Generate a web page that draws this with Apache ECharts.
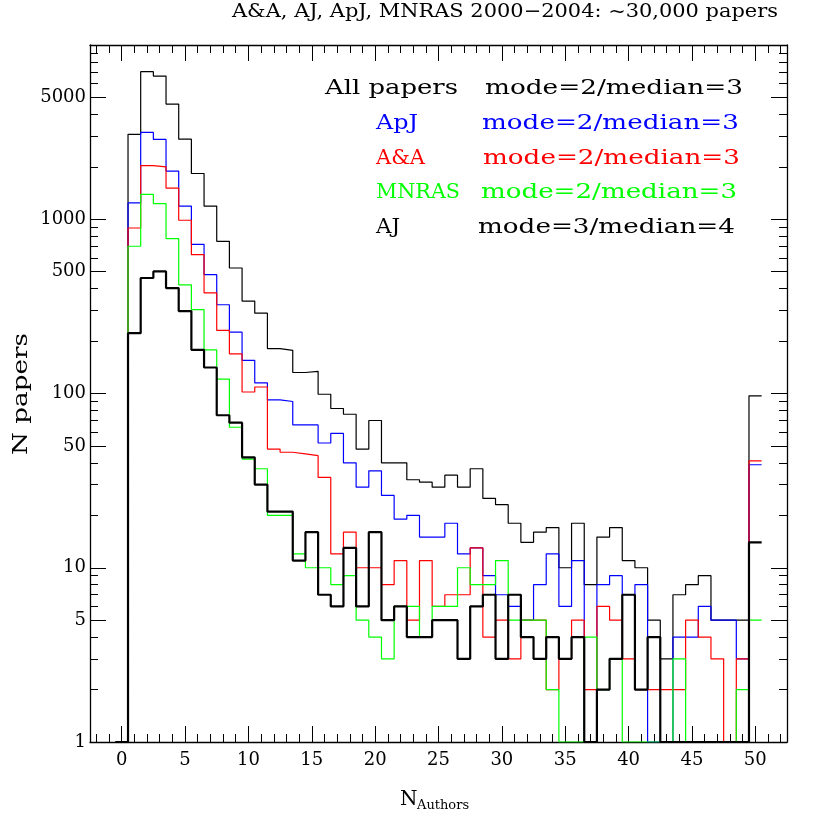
<!DOCTYPE html>
<html>
<head>
<meta charset="utf-8">
<title>Authors per paper</title>
<script src="https://cdn.jsdelivr.net/npm/echarts@6/dist/echarts.min.js"></script>
<style>
  html, body { margin: 0; padding: 0; background: #fff; }
  #chart { width: 830px; height: 830px; }
</style>
</head>
<body>
<div id="chart"></div>
<script>
// number of authors per paper (bin centres), 50 = "50 or more"
var nAuthors = [0, 1, 2, 3, 4, 5, 6, 7, 8, 9, 10, 11, 12, 13, 14, 15, 16, 17, 18, 19, 20,
  21, 22, 23, 24, 25, 26, 27, 28, 29, 30, 31, 32, 33, 34, 35, 36, 37, 38, 39, 40,
  41, 42, 43, 44, 45, 46, 47, 48, 49, 50];

// paper counts (1 = empty bin, sits on the bottom axis)
var allPapers = [1, 3070, 7030, 6630, 4580, 2880, 1830, 1190, 747, 525, 339, 289, 181, 177, 132, 134,
  99, 82, 76, 48, 70, 40, 40, 32, 31, 29, 34, 29, 37, 25, 23, 18, 14, 16, 17, 10, 18, 8, 15, 17, 11,
  10, 5, 3, 7, 8, 9, 5, 5, 5, 97];
var apj = [1, 1240, 3150, 2870, 1890, 1190, 718, 481, 323, 225, 155, 115, 92, 90, 66, 66,
  52, 59, 40, 29, 36, 26, 19, 20, 15, 15, 18, 12, 13, 9, 7, 6, 5, 8, 12, 6, 11, 1, 8, 9, 7,
  8, 1, 1, 4, 4, 6, 5, 5, 3, 39];
var aa = [1, 891, 2030, 2000, 1510, 987, 627, 378, 230, 169, 102, 109, 48, 46, 45, 44,
  33, 12, 16, 10, 10, 8, 11, 5, 11, 6, 7, 7, 13, 4, 5, 3, 5, 5, 2, 3, 5, 2, 6, 5, 3,
  2, 2, 2, 2, 5, 4, 3, 1, 3, 41];
var mnras = [1, 700, 1390, 1230, 774, 420, 303, 178, 121, 64, 42, 37, 20, 20, 12, 10,
  10, 8, 9, 5, 4, 3, 6, 6, 4, 6, 6, 10, 8, 8, 11, 5, 5, 5, 2, 1, 1, 4, 2, 3, 1,
  1, 1, 1, 3, 1, 1, 1, 1, 2, 5];
var aj = [1, 222, 460, 502, 403, 297, 178, 141, 75, 68, 43, 30, 21, 21, 11, 16,
  7, 6, 13, 6, 16, 5, 6, 4, 4, 5, 5, 3, 6, 7, 3, 7, 4, 3, 4, 3, 4, 1, 2, 3, 7,
  2, 4, 1, 1, 1, 1, 1, 1, 1, 14];

// tick labels
var xMajorTicks = [0, 5, 10, 15, 20, 25, 30, 35, 40, 45, 50];
var xMinorTicks = [-2, -1, 0, 1, 2, 3, 4, 5, 6, 7, 8, 9, 10, 11, 12, 13, 14, 15, 16, 17, 18, 19, 20,
  21, 22, 23, 24, 25, 26, 27, 28, 29, 30, 31, 32, 33, 34, 35, 36, 37, 38, 39, 40,
  41, 42, 43, 44, 45, 46, 47, 48, 49, 50, 51, 52];
var yLabels = [1, 5, 10, 50, 100, 500, 1000, 5000];
var yMajorTicks = [1, 5, 10, 50, 100, 500, 1000, 5000, 10000];
var yMinorTicks = [2, 3, 4, 6, 7, 8, 9, 20, 30, 40, 60, 70, 80, 90, 200, 300, 400, 600, 700, 800, 900,
  2000, 3000, 4000, 6000, 7000, 8000, 9000];

// legend text rows: left x, centre y and the width each piece spans in the original
var legendRows = [
  { name: 'All papers', stats: 'mode=2/median=3', color: '#000000', x: 325, w: 133, sx: 485, sw: 258, y: 89 },
  { name: 'ApJ', stats: 'mode=2/median=3', color: '#0000ff', x: 376, w: 42, sx: 482, sw: 257, y: 124 },
  { name: 'A&A', stats: 'mode=2/median=3', color: '#ff0000', x: 376, w: 49, sx: 483, sw: 257, y: 159 },
  { name: 'MNRAS', stats: 'mode=2/median=3', color: '#00ff00', x: 376, w: 84, sx: 481, sw: 256, y: 193 },
  { name: 'AJ', stats: 'mode=3/median=4', color: '#000000', x: 376, w: 24, sx: 478, sw: 257, y: 228 }
];

var SERIF = '"DejaVu Serif", "Liberation Serif", serif';

// the original font is wider than DejaVu; stretch each text to its span
var measureCtx = document.createElement('canvas').getContext('2d');
function fitScale(text, font, width) {
  measureCtx.font = font;
  return width / measureCtx.measureText(text).width;
}

// histogram steps: each bin drawn from its left edge, last bin closed at its right edge
function steps(values) {
  var pts = nAuthors.map(function (n, i) { return [n - 0.5, values[i]]; });
  var last = nAuthors.length - 1;
  pts.push([nAuthors[last] + 0.5, values[last]]);
  return pts;
}

function lg(v) { return Math.log10(v); }

function xAxis(position, ticks, len, withLabels, withLine) {
  return {
    type: 'value', min: -2.5, max: 52.5, position: position,
    axisLine: { show: withLine, onZero: false, lineStyle: { color: '#000', width: 1.3 } },
    axisTick: { show: true, inside: true, length: len, customValues: ticks, lineStyle: { color: '#000', width: 1 } },
    axisLabel: withLabels ? { show: true, customValues: xMajorTicks, color: '#000', fontFamily: SERIF, fontSize: 18, margin: 9 } : { show: false },
    splitLine: { show: false }
  };
}

function yAxis(position, ticks, len, withLabels, withLine) {
  return {
    type: 'value', min: 0, max: 4, position: position,
    axisLine: { show: withLine, onZero: false, lineStyle: { color: '#000', width: 1.3 } },
    axisTick: { show: true, inside: true, length: len, customValues: ticks.map(lg), lineStyle: { color: '#000', width: 1 } },
    axisLabel: withLabels ? {
      show: true, customValues: yLabels.map(lg), color: '#000', fontFamily: SERIF, fontSize: 18, margin: 4,
      formatter: function (v) { return String(Math.round(Math.pow(10, v))); }
    } : { show: false },
    splitLine: { show: false }
  };
}

function histSeries(name, values, color, width) {
  return {
    name: name, type: 'line', step: 'end', data: steps(values),
    xAxisIndex: 0, yAxisIndex: 0,
    showSymbol: false, symbol: 'none', silent: true,
    lineStyle: { color: color, width: width },
    emphasis: { disabled: true }
  };
}

var titleText = 'A&A, AJ, ApJ, MNRAS 2000\u22122004: ~30,000 papers';
var titleFont = '19px ' + SERIF;
var legendFont = '21px ' + SERIF;

var graphics = [
  {
    type: 'text', x: 778, y: 12, scaleX: fitScale(titleText, titleFont, 546),
    style: { text: titleText, align: 'right', verticalAlign: 'middle', font: titleFont, fill: '#000' }
  },
  {
    type: 'text', x: 22, y: 394, rotation: Math.PI / 2, scaleX: fitScale('N papers', '20px ' + SERIF, 122),
    style: { text: 'N papers', align: 'center', verticalAlign: 'middle', font: '20px ' + SERIF, fill: '#000' }
  },
  {
    type: 'text', x: 400, y: 800,
    style: { text: 'N', align: 'left', verticalAlign: 'middle', font: '20px ' + SERIF, fill: '#000' }
  },
  {
    type: 'text', x: 417, y: 806,
    style: { text: 'Authors', align: 'left', verticalAlign: 'middle', font: '13px ' + SERIF, fill: '#000' }
  }
];
legendRows.forEach(function (r) {
  graphics.push({
    type: 'text', x: r.x, y: r.y, scaleX: fitScale(r.name, legendFont, r.w),
    style: { text: r.name, align: 'left', verticalAlign: 'middle', font: legendFont, fill: r.color }
  });
  graphics.push({
    type: 'text', x: r.sx, y: r.y, scaleX: fitScale(r.stats, legendFont, r.sw),
    style: { text: r.stats, align: 'left', verticalAlign: 'middle', font: legendFont, fill: r.color }
  });
});

var chart = echarts.init(document.getElementById('chart'), null, { renderer: 'canvas' });
chart.setOption({
  animation: false,
  backgroundColor: '#fff',
  grid: { left: 90, right: 43, top: 45, bottom: 88, containLabel: false },
  xAxis: [
    xAxis('bottom', xMajorTicks, 16, true, true),
    xAxis('bottom', xMinorTicks, 8, false, false),
    xAxis('top', xMajorTicks, 16, false, true),
    xAxis('top', xMinorTicks, 8, false, false)
  ],
  yAxis: [
    {
      type: 'log', logBase: 10, min: 1, max: 10000, position: 'left',
      axisLine: { show: true, onZero: false, lineStyle: { color: '#000', width: 1.3 } },
      axisTick: { show: false }, axisLabel: { show: false }, splitLine: { show: false }
    },
    yAxis('left', yMajorTicks, 16, true, false),
    yAxis('left', yMinorTicks, 8, false, false),
    yAxis('right', yMajorTicks, 16, false, true),
    yAxis('right', yMinorTicks, 8, false, false)
  ],
  series: [
    histSeries('All papers', allPapers, '#000000', 1.2),
    histSeries('ApJ', apj, '#0000ff', 1.2),
    histSeries('A&A', aa, '#ff0000', 1.2),
    histSeries('MNRAS', mnras, '#00ff00', 1.2),
    histSeries('AJ', aj, '#000000', 2.2)
  ],
  graphic: graphics
});
</script>
</body>
</html>
